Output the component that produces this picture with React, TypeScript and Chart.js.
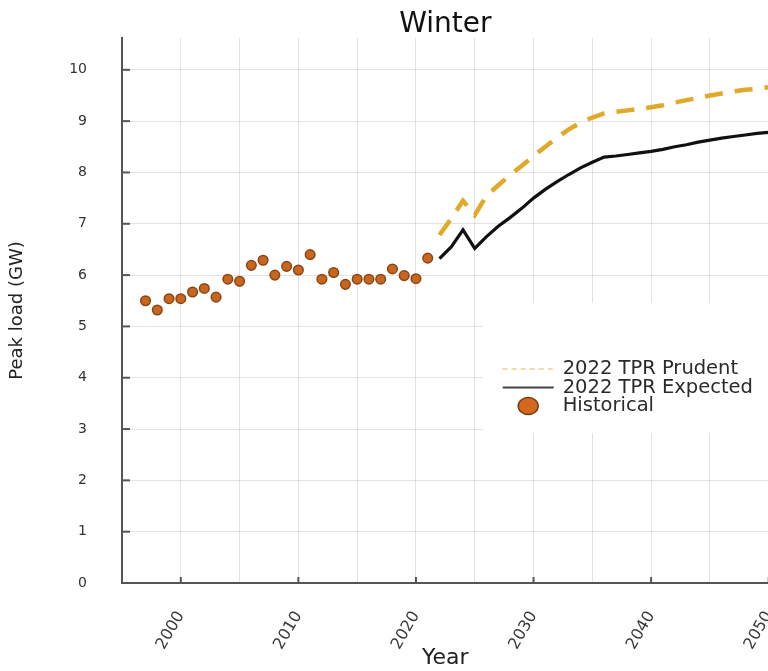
import { useEffect, useRef } from 'react';
import { Chart, registerables } from 'chart.js';

Chart.register(...registerables);

const historicalYears = [1997, 1998, 1999, 2000, 2001, 2002, 2003, 2004, 2005, 2006, 2007, 2008, 2009, 2010, 2011, 2012, 2013, 2014, 2015, 2016, 2017, 2018, 2019, 2020, 2021];
const historicalLoad = [5.5, 5.32, 5.54, 5.54, 5.67, 5.74, 5.57, 5.92, 5.88, 6.19, 6.29, 6.0, 6.17, 6.1, 6.4, 5.92, 6.05, 5.82, 5.92, 5.92, 5.92, 6.12, 5.99, 5.93, 6.33];

const forecastYears = [2022, 2023, 2024, 2025, 2026, 2027, 2028, 2029, 2030, 2031, 2032, 2033, 2034, 2035, 2036, 2037, 2038, 2039, 2040, 2041, 2042, 2043, 2044, 2045, 2046, 2047, 2048, 2049, 2050];
const prudentLoad = [6.78, 7.1, 7.45, 7.17, 7.55, 7.75, 7.95, 8.13, 8.32, 8.5, 8.68, 8.84, 8.97, 9.07, 9.15, 9.18, 9.21, 9.24, 9.27, 9.31, 9.36, 9.41, 9.45, 9.5, 9.54, 9.58, 9.61, 9.63, 9.66];
const expectedLoad = [6.32, 6.55, 6.88, 6.52, 6.75, 6.95, 7.12, 7.3, 7.5, 7.67, 7.82, 7.96, 8.09, 8.2, 8.3, 8.32, 8.35, 8.38, 8.41, 8.45, 8.5, 8.54, 8.59, 8.63, 8.67, 8.7, 8.73, 8.76, 8.78];

const seriesLabels = ['2022 TPR Prudent', '2022 TPR Expected', 'Historical'];
const xLabelYears = [2000, 2010, 2020, 2030, 2040, 2050];
const chartTitle = 'Winter';

const FONT = "'DejaVu Sans', sans-serif";

const decorPlugin = {
  id: 'decor',
  beforeDatasetsDraw(chart: any) {
    const { ctx, chartArea: ca } = chart;
    ctx.save();
    // white legend background covering the grid
    ctx.fillStyle = '#ffffff';
    ctx.fillRect(ca.right - 286, ca.top + 265, 300, 130);

    // inward tick marks
    ctx.strokeStyle = '#555';
    ctx.lineWidth = 2;
    const ys = chart.scales.y;
    ys.ticks.forEach((t: any) => {
      const p = ys.getPixelForValue(t.value);
      ctx.beginPath();
      ctx.moveTo(ca.left, p);
      ctx.lineTo(ca.left + 8, p);
      ctx.stroke();
    });
    const xs = chart.scales.x;
    xs.ticks.forEach((t: any) => {
      if (!xLabelYears.includes(t.value)) return;
      const p = xs.getPixelForValue(t.value);
      ctx.beginPath();
      ctx.moveTo(p, ca.bottom);
      ctx.lineTo(p, ca.bottom - 6);
      ctx.stroke();
    });

    // legend entries
    const ds = chart.data.datasets;
    const sx0 = ca.right - 266;
    const sx1 = ca.right - 215;
    const tx = ca.right - 206;
    const rows = [ca.top + 331, ca.top + 349.5, ca.top + 368];
    ctx.font = `19.5px ${FONT}`;
    ctx.textBaseline = 'middle';
    ctx.textAlign = 'left';

    ctx.strokeStyle = 'rgba(226,168,41,0.55)';
    ctx.lineWidth = 1.5;
    ctx.setLineDash([5, 4]);
    ctx.beginPath();
    ctx.moveTo(sx0, rows[0]);
    ctx.lineTo(sx1, rows[0]);
    ctx.stroke();
    ctx.setLineDash([]);

    ctx.strokeStyle = '#444';
    ctx.lineWidth = 2;
    ctx.beginPath();
    ctx.moveTo(sx0, rows[1]);
    ctx.lineTo(sx1, rows[1]);
    ctx.stroke();

    ctx.fillStyle = '#D2691E';
    ctx.strokeStyle = '#7A3A10';
    ctx.lineWidth = 1.5;
    ctx.beginPath();
    ctx.ellipse((sx0 + sx1) / 2, rows[2], 10, 8.5, 0, 0, Math.PI * 2);
    ctx.fill();
    ctx.stroke();

    ctx.fillStyle = '#2a2a2a';
    ds.forEach((d: any, i: number) => {
      ctx.fillText(d.label, tx, rows[i]);
    });

    // title centred over the plot area
    ctx.fillStyle = '#111';
    ctx.font = `28px ${FONT}`;
    ctx.textAlign = 'center';
    ctx.textBaseline = 'middle';
    ctx.fillText(chartTitle, (ca.left + ca.right) / 2, ca.top - 13);
    ctx.restore();
  },
};

export default function App() {
  const ref = useRef<HTMLCanvasElement>(null);

  useEffect(() => {
    if (!ref.current) return;
    const chart = new Chart(ref.current, {
      type: 'line',
      data: {
        datasets: [
          {
            label: seriesLabels[0],
            data: forecastYears.map((x, i) => ({ x, y: prudentLoad[i] })),
            borderColor: '#E2A829',
            borderWidth: 4.5,
            borderDash: [18, 12],
            pointRadius: 0,
            tension: 0,
            fill: false,
          },
          {
            label: seriesLabels[1],
            data: forecastYears.map((x, i) => ({ x, y: expectedLoad[i] })),
            borderColor: '#111111',
            borderWidth: 3.2,
            pointRadius: 0,
            tension: 0,
            fill: false,
          },
          {
            label: seriesLabels[2],
            data: historicalYears.map((x, i) => ({ x, y: historicalLoad[i] })),
            showLine: false,
            pointRadius: 4.8,
            pointBackgroundColor: '#C8651E',
            pointBorderColor: '#8A4513',
            pointBorderWidth: 1.5,
            borderColor: '#8A4513',
            backgroundColor: '#C8651E',
          },
        ],
      },
      options: {
        animation: false,
        responsive: false,
        maintainAspectRatio: false,
        layout: { padding: { top: 38, left: 0, right: 0, bottom: 0 } },
        plugins: {
          legend: { display: false },
          tooltip: { enabled: false },
          title: { display: false },
        },
        scales: {
          x: {
            type: 'linear',
            min: 1995,
            max: 2050,
            afterFit: (s: any) => {
              s.height = 88;
              s.paddingRight = 0;
              s.paddingLeft = 0;
            },
            border: { display: true, color: '#555', width: 2 },
            grid: { color: 'rgba(0,0,0,0.11)', lineWidth: 1, drawTicks: false },
            ticks: {
              stepSize: 5,
              autoSkip: false,
              includeBounds: false,
              minRotation: 60,
              maxRotation: 60,
              padding: 25,
              color: '#3a3a3a',
              font: { family: FONT, size: 16 },
              callback: (v: any) => (xLabelYears.includes(Number(v)) ? String(v) : ''),
            },
            title: {
              display: true,
              text: 'Year',
              color: '#222',
              font: { family: FONT, size: 22 },
              padding: { top: 0, bottom: 0 },
            },
          },
          y: {
            type: 'linear',
            min: 0,
            max: 10.62,
            afterFit: (s: any) => {
              s.width = 122;
              s.paddingTop = 0;
              s.paddingBottom = 0;
            },
            border: { display: true, color: '#555', width: 2 },
            grid: { color: 'rgba(0,0,0,0.11)', lineWidth: 1, drawTicks: false },
            ticks: {
              stepSize: 1,
              includeBounds: false,
              padding: 35,
              color: '#333',
              font: { family: FONT, size: 14 },
            },
            title: {
              display: true,
              text: 'Peak load (GW)',
              color: '#222',
              font: { family: FONT, size: 18 },
              padding: { top: 7, bottom: 0 },
            },
          },
        },
      },
      plugins: [decorPlugin],
    });
    return () => chart.destroy();
  }, []);

  return (
    <div style={{ position: 'fixed', left: 0, top: 0, width: 768, height: 671, overflow: 'hidden', background: '#fff' }}>
      <canvas ref={ref} width={775} height={671} style={{ width: 775, height: 671, display: 'block' }} />
    </div>
  );
}
